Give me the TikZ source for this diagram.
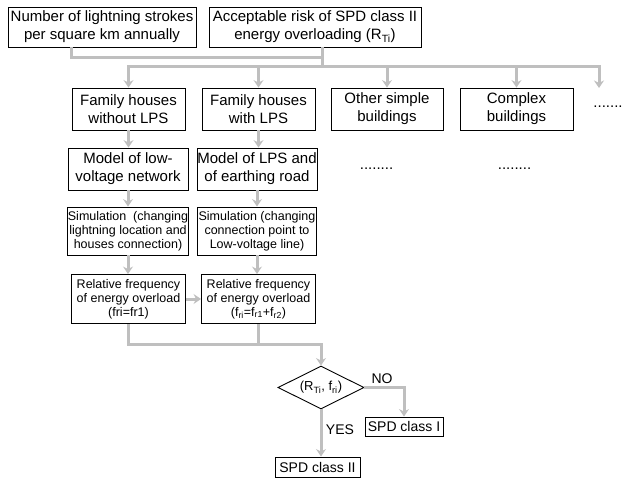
\documentclass[tikz,border=0pt]{standalone}
\usepackage{fontspec}
\setmainfont{Liberation Sans}
\usetikzlibrary{arrows.meta,shapes.geometric}
\definecolor{connc}{RGB}{191,191,191}
\begin{document}
\begin{tikzpicture}[x=1pt,y=-1pt,
  box/.style={draw=black,line width=0.9pt,align=center,inner sep=0pt,font=\fontsize{15}{18}\selectfont},
  smallbox/.style={box,font=\fontsize{12.5}{13.8}\selectfont},
  dots/.style={inner sep=0pt,font=\fontsize{15}{18}\selectfont},
  conn/.style={draw=connc,line width=3pt,line join=miter},
  arr/.style={conn,-{Stealth[width=10pt,length=7.5pt,inset=2.5pt]}},
  lbl/.style={inner sep=0pt,font=\fontsize{14}{16}\selectfont},
]
\useasboundingbox (0,0) rectangle (624,479);
% top row
\node[box,minimum width=188pt,minimum height=40pt] (A) at (102,27) {Number of lightning strokes\\per square km annually};
\node[box,minimum width=212pt,minimum height=40pt] (B) at (315,27) {Acceptable risk of SPD class II\\energy overloading (R\textsubscript{Ti})};
% row 2
\node[box,minimum width=113pt,minimum height=42pt] (F1) at (128.5,109) {Family houses\\without LPS};
\node[box,minimum width=113pt,minimum height=42pt] (F2) at (258.5,109) {Family houses\\with LPS};
\node[box,minimum width=112pt,minimum height=42pt] (OS) at (387,109) {Other simple\\buildings};
\node[box,minimum width=113pt,minimum height=42pt] (CB) at (516.5,109) {Complex\\buildings};
\node[dots] (D1) at (608,107) {.......};
% row 3
\node[box,minimum width=120pt,minimum height=42pt] (M1) at (128,169) {Model of low-\\voltage network};
\node[box,minimum width=120pt,minimum height=42pt] (M2) at (257,169) {Model of LPS and\\of earthing road};
\node[dots] (D2) at (376.5,169) {........};
\node[dots] (D3) at (514.5,169) {........};
% row 4
\node[smallbox,minimum width=119pt,minimum height=48pt] (S1) at (128,231) {Simulation\ \ (changing\\lightning location and\\houses connection)};
\node[smallbox,minimum width=119pt,minimum height=48pt] (S2) at (257,231) {Simulation (changing\\connection point to\\Low-voltage line)};
% row 5
\node[smallbox,minimum width=114pt,minimum height=49pt] (R1) at (128.5,299) {Relative frequency\\of energy overload\\(fri=fr1)};
\node[smallbox,minimum width=114pt,minimum height=49pt] (R2) at (258.5,299) {Relative frequency\\of energy overload\\(f\textsubscript{ri}=f\textsubscript{r1}+f\textsubscript{r2})};
% decision
\node[draw=black,line width=0.9pt,diamond,aspect=2,minimum width=86pt,minimum height=43pt,inner sep=0pt,font=\fontsize{13}{15}\selectfont] (DM) at (321,387.5) {(R\textsubscript{Ti}, f\textsubscript{ri})};
\node[box,font=\fontsize{14}{16}\selectfont,minimum width=78pt,minimum height=19pt] (C1) at (404,426.5) {SPD class I};
\node[box,font=\fontsize{14}{16}\selectfont,minimum width=85pt,minimum height=20pt] (C2) at (317.5,467) {SPD class II};
\node[lbl] (NO) at (382,379) {NO};
\node[lbl] (YES) at (340,430) {YES};
% coordinates
\coordinate (Ja) at (71,57);
\coordinate (Jb) at (322,57);
\coordinate (Bb) at (322,66);
\coordinate (Dend) at (599,88);
\coordinate (J) at (321,344);
% top connectors
\draw[conn] (A.south -| Ja) -- (Ja) -- (Jb);
\draw[conn] (B.south -| Jb) -- (Bb);
\draw[conn,line cap=rect] (F1.north |- Bb) -- (Dend |- Bb);
\draw[arr] (F1.north |- Bb) -- (F1.north);
\draw[arr] (F2.north |- Bb) -- (F2.north);
\draw[arr] (OS.north |- Bb) -- (OS.north);
\draw[arr] (CB.north |- Bb) -- (CB.north);
\draw[arr] (Dend |- Bb) -- (Dend);
% column arrows
\draw[arr] (F1.south) -- (F1.south |- M1.north);
\draw[arr] (F2.south) -- (F2.south |- M2.north);
\draw[arr] (M1.south) -- (M1.south |- S1.north);
\draw[arr] (M2.south) -- (M2.south |- S2.north);
\draw[arr] (S1.south) -- (S1.south |- R1.north);
\draw[arr] (S2.south) -- (S2.south |- R2.north);
\draw[arr] (R1.east) -- (R2.west);
% bottom
\draw[arr] (R1.south) -- (R1.south |- J) -- (J) -- (DM.north);
\draw[conn] (R2.south) -- (R2.south |- J);
\draw[arr] (DM.east) -| (C1.north);
\draw[arr] (DM.south) -- (DM.south |- C2.north);
\end{tikzpicture}
\end{document}
